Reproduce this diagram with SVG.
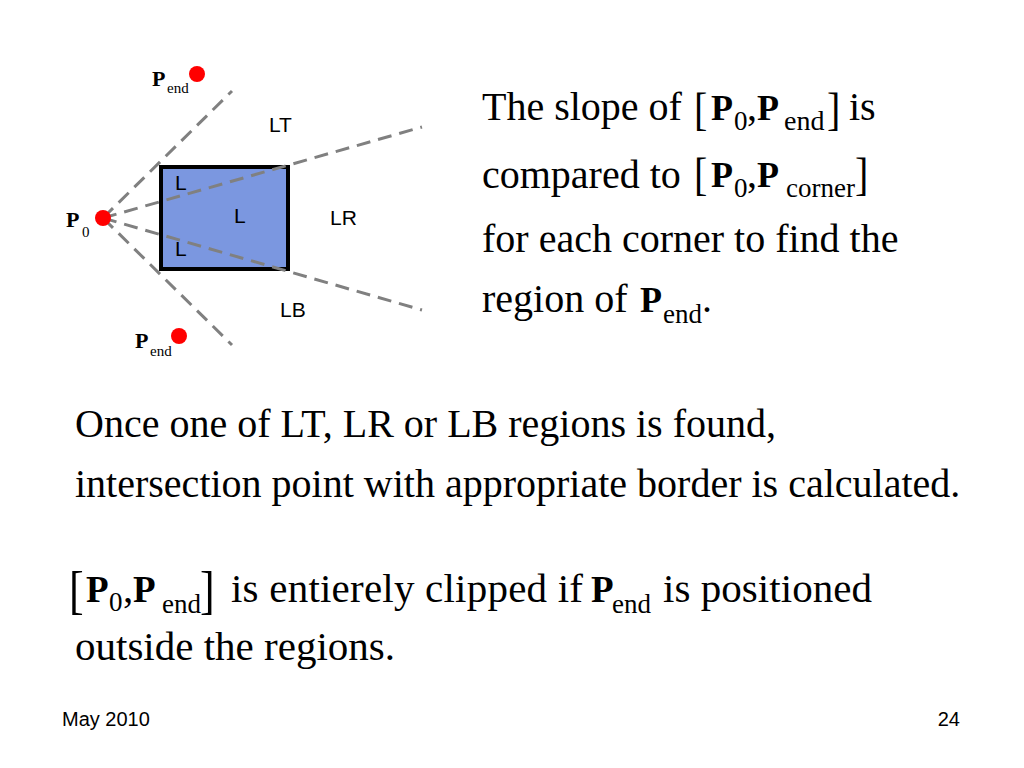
<svg xmlns="http://www.w3.org/2000/svg" width="1024" height="768" viewBox="0 0 1024 768">
<style>
.serif{font-family:"Liberation Serif","Times New Roman",serif;fill:#000}
.t40{font-size:40px}
.t41{font-size:41px}
.b{font-weight:bold;font-size:36px}
.b37{font-weight:bold;font-size:37px}
.sub{font-size:27px}
.sub28{font-size:28px}
.br{font-size:40px}
.br2{font-size:44px}
.sans{font-family:"Liberation Sans",Arial,sans-serif;fill:#000;font-size:21px}
.lp{font-size:22px;font-weight:bold}
.ls{font-size:15px}
.dash{stroke:#808080;stroke-width:3;stroke-dasharray:14 8;fill:none}
.dot{fill:#ff0000}
</style>
<rect width="1024" height="768" fill="#fff"/>
<g id="window">
<rect x="161" y="167" width="127" height="102" fill="#7b97e0" stroke="#000" stroke-width="4"/>
</g>
<g id="connectors">
<line class="dash" x1="103" y1="218" x2="232" y2="91"/>
<line class="dash" x1="103" y1="218" x2="422" y2="127"/>
<line class="dash" x1="103" y1="218" x2="422" y2="310"/>
<line class="dash" x1="103" y1="218" x2="232" y2="345"/>
</g>
<g id="p0">
<circle class="dot" cx="103" cy="218" r="8"/>
<text class="serif lp" x="66" y="227">P</text>
<text class="serif ls" x="82" y="237">0</text>
</g>
<g id="pend-top">
<circle class="dot" cx="197" cy="74" r="8"/>
<text class="serif lp" x="152" y="86">P</text>
<text class="serif ls" x="167" y="93">end</text>
</g>
<g id="pend-bottom">
<circle class="dot" cx="179" cy="336" r="8"/>
<text class="serif lp" x="135" y="348">P</text>
<text class="serif ls" x="150" y="356">end</text>
</g>
<g id="region-labels">
<text class="sans" x="269" y="132">LT</text>
<text class="sans" x="330" y="225">LR</text>
<text class="sans" x="280" y="317">LB</text>
<text class="sans" x="175" y="190">L</text>
<text class="sans" x="234" y="223">L</text>
<text class="sans" x="175" y="256">L</text>
</g>
<g id="right-text" class="serif t40">
<text x="482" y="120">The slope of</text>
<text class="br" transform="translate(694,125) scale(1,1.17)">[</text>
<text class="b" x="711" y="120">P</text>
<text class="sub" x="734" y="130">0</text>
<text x="747" y="120">,</text>
<text class="b" x="757" y="120">P</text>
<text class="sub28" x="784" y="130">end</text>
<text class="br" transform="translate(827,125) scale(1,1.17)">]</text>
<text x="849" y="120">is</text>

<text x="482" y="188">compared to</text>
<text class="br" transform="translate(694,190) scale(1,1.17)">[</text>
<text class="b" x="711" y="187">P</text>
<text class="sub" x="734" y="197">0</text>
<text x="747" y="187">,</text>
<text class="b" x="757" y="187">P</text>
<text class="sub" x="786" y="197">corner</text>
<text class="br" transform="translate(855,190) scale(1,1.17)">]</text>

<text x="482" y="252">for each corner to find the</text>

<text x="482" y="312">region of</text>
<text class="b" x="640" y="312">P</text>
<text class="sub" x="663" y="323">end</text>
<text x="702" y="312">.</text>
</g>
<g id="middle-text" class="serif t40">
<text x="75" y="437">Once one of LT, LR or LB regions is found,</text>
<text x="75" y="497">intersection point with appropriate border is calculated.</text>
</g>
<g id="bottom-text" class="serif t41">
<text class="br2" transform="translate(69,608) scale(1,1.22)">[</text>
<text class="b37" x="86" y="602">P</text>
<text class="sub" x="109" y="611">0</text>
<text x="123" y="602">,</text>
<text class="b37" x="133" y="602">P</text>
<text class="sub" x="162" y="613">end</text>
<text class="br2" transform="translate(200,608) scale(1,1.22)">]</text>
<text x="231" y="602" textLength="352">is entierely clipped if</text>
<text class="b37" x="591" y="602">P</text>
<text class="sub" x="612" y="613">end</text>
<text x="663" y="602" textLength="209">is positioned</text>
<text x="75" y="660">outside the regions.</text>
</g>
<g id="footer" style="font-family:'Liberation Sans',Arial,sans-serif;font-size:20px;fill:#000">
<text x="62" y="726">May 2010</text>
<text x="960" y="726" text-anchor="end">24</text>
</g>
</svg>
